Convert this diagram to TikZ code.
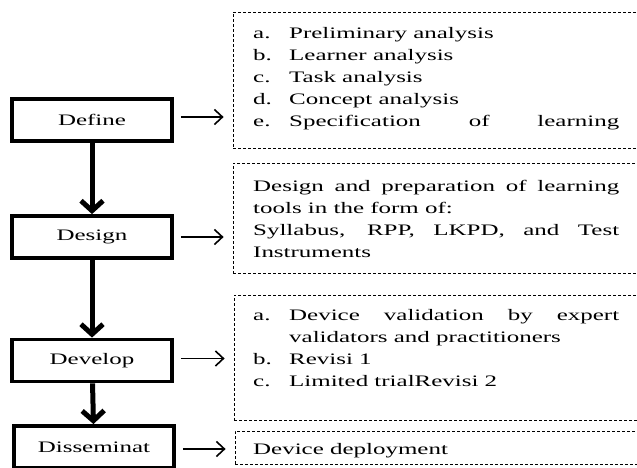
\documentclass[tikz,border=0pt]{standalone}
\usepackage{fontspec}
\setmainfont{Liberation Serif}[FakeStretch=1.56]
\usetikzlibrary{arrows.meta}
\newcommand\Point[2]{%
    \noindent\hangindent=36pt\hangafter=1%
    \makebox[36pt][l]{#1}#2\par%
}

\begin{document}
\begin{tikzpicture}[x=1pt, y=-1pt,
    every node/.style={font=\fontsize{16}{22}\selectfont},
    stage/.style={draw, line width=3.8pt, minimum width=160pt,
        minimum height=42pt, inner sep=0pt},
    detail/.style={draw, dashed, dash pattern=on 3pt off 2pt,
        line width=0.8pt, minimum width=406pt, inner sep=0pt},
    note/.style={anchor=base west, text width=366pt, align=justify,
        inner sep=0pt,
        execute at begin node={\hyphenpenalty=10000\exhyphenpenalty=10000}},
    flow/.style={line width=5pt, -{Straight Barb[length=10pt,width=22pt]}},
    link/.style={line width=1.6pt, -{Straight Barb[length=8pt,width=15pt]},
        shorten <=7pt, shorten >=9pt}]
\useasboundingbox (0,0) rectangle (637,468);

% stages
\node[stage] (define) at (92,120) {Define};
\node[stage] (design) at (92,237) {Design};
\node[stage] (develop) at (92,360.5) {Develop};
\node[stage] (dissem) at (94,447) {Disseminat};

% dashed boxes
\node[detail, minimum height=136pt] (d1) at (436,80) {};
\node[detail, minimum height=110pt] (d2) at (436,218) {};
\node[detail, minimum height=125pt] (d3) at (437,357.5) {};
\node[detail, minimum height=33pt] (d4) at (438,447.5) {};

% texts
\node[note] (t1) at (253,39) {%
    \Point{a.}{Preliminary analysis}%
    \Point{b.}{Learner analysis}%
    \Point{c.}{Task analysis}%
    \Point{d.}{Concept analysis}%
    {\parfillskip=0pt \Point{e.}{Specification of learning}}};
\node[note] (t2) at (253,191) {%
    {\parfillskip=0pt Design and preparation of learning\par}
    \noindent tools in the form of:\par
    {\parfillskip=0pt \noindent Syllabus, RPP, LKPD, and Test\par}
    \noindent Instruments};
\node[note] (t3) at (253,320) {%
    \Point{a.}{Device validation by expert validators and practitioners}%
    \Point{b.}{Revisi 1}%
    \Point{c.}{Limited trialRevisi 2}};
\node[note] (t4) at (253,454) {Device deployment};

% arrows
\draw[flow] (define) -- (design);
\draw[flow] (design) -- (develop);
\draw[flow] (develop) -- (dissem);
\draw[link] ([yshift=3pt]define.east) -- ([yshift=3pt]define.east -| d1.west);
\draw[link] (design.east) -- (design.east -| d2.west);
\draw[link] ([yshift=2pt]develop.east) -- ([yshift=2pt]develop.east -| d3.west);
\draw[link] ([yshift=-2pt]dissem.east) -- ([yshift=-2pt]dissem.east -| d4.west);
\end{tikzpicture}
\end{document}
